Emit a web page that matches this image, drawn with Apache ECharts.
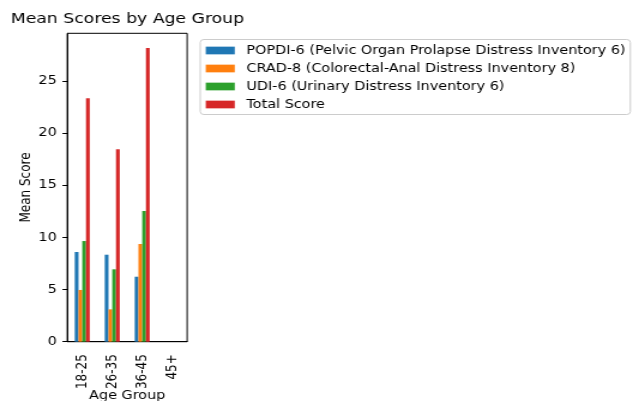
<!DOCTYPE html>
<html>
<head>
<meta charset="utf-8">
<script src="https://cdn.jsdelivr.net/npm/echarts@6/dist/echarts.min.js"></script>
<style>
  html, body { margin: 0; padding: 0; background: #fff; overflow: hidden; }
  /* The figure is laid out on a narrower canvas and widened to 633px */
  #chart { width: 528px; height: 401px; transform: scaleX(1.1989); transform-origin: 0 0; }
</style>
</head>
<body>
<div id="chart"></div>
<script>
// Age groups on the x axis
const ageGroups = ['18-25', '26-35', '36-45', '45+'];

// Mean scores per questionnaire (no respondents in 45+)
const popdi6 = [8.6, 8.34, 6.23, null];
const crad8 = [4.96, 3.1, 9.37, null];
const udi6 = [9.65, 6.94, 12.53, null];
const totalScore = [23.34, 18.45, 28.16, null];

const yTicks = [0, 5, 10, 15, 20, 25];

const seriesNames = [
  'POPDI-6 (Pelvic Organ Prolapse Distress Inventory 6)',
  'CRAD-8 (Colorectal-Anal Distress Inventory 8)',
  'UDI-6 (Urinary Distress Inventory 6)',
  'Total Score'
];
const seriesData = [popdi6, crad8, udi6, totalScore];
const colors = ['#1f77b4', '#ff7f0e', '#2ca02c', '#d62728'];

const font = 'DejaVu Sans';
// 5% headroom above the tallest bar
const yMax = Math.max(...totalScore.filter(v => v != null)) * 1.05;

const chart = echarts.init(document.getElementById('chart'), null, { renderer: 'canvas' });

chart.setOption({
  animation: false,
  textStyle: { fontFamily: font },
  title: {
    text: 'Mean Scores by Age Group',
    left: 9,
    top: 12,
    padding: 0,
    textStyle: { fontFamily: font, fontSize: 14.4, fontWeight: 'normal', color: '#000' }
  },
  legend: {
    orient: 'vertical',
    left: 167,
    top: 39.5,
    padding: [4, 4, 3, 4.6],
    itemGap: 4,
    itemWidth: 24.2,
    itemHeight: 7.7,
    borderColor: '#cccccc',
    borderWidth: 1,
    borderRadius: 3,
    icon: 'rect',
    textStyle: {
      fontFamily: font,
      fontSize: 12,
      color: '#000',
      lineHeight: 14,
      padding: [0, 0, 0, 4.75]
    },
    data: seriesNames
  },
  grid: {
    left: 56.1,
    top: 33.3,
    width: 100,
    height: 308.4,
    show: true,
    borderColor: '#000',
    borderWidth: 1,
    containLabel: false,
    outerBoundsMode: 'none'
  },
  xAxis: {
    type: 'category',
    data: ageGroups,
    name: 'Age Group',
    nameLocation: 'middle',
    nameGap: 48,
    nameMoveOverlap: false,
    nameTextStyle: { fontFamily: font, fontSize: 12, color: '#000' },
    axisLine: { lineStyle: { color: '#000', width: 1 } },
    axisTick: { alignWithLabel: true, length: 3.7, lineStyle: { color: '#000' } },
    axisLabel: { rotate: 90, margin: 12.5, fontFamily: font, fontSize: 12, color: '#000' }
  },
  yAxis: {
    type: 'value',
    min: 0,
    max: yMax,
    interval: 5,
    name: 'Mean Score',
    nameLocation: 'middle',
    nameGap: 28,
    nameMoveOverlap: false,
    nameTextStyle: { fontFamily: font, fontSize: 12, color: '#000' },
    splitLine: { show: false },
    axisLine: { show: true, lineStyle: { color: '#000', width: 1 } },
    axisTick: { show: true, length: 4, lineStyle: { color: '#000' }, customValues: yTicks },
    axisLabel: { margin: 8.8, fontFamily: font, fontSize: 12, color: '#000', customValues: yTicks }
  },
  series: seriesNames.map((name, i) => ({
    name: name,
    type: 'bar',
    data: seriesData[i],
    barWidth: 3.125,
    barGap: '0%',
    itemStyle: { color: colors[i] }
  }))
});
</script>
</body>
</html>
